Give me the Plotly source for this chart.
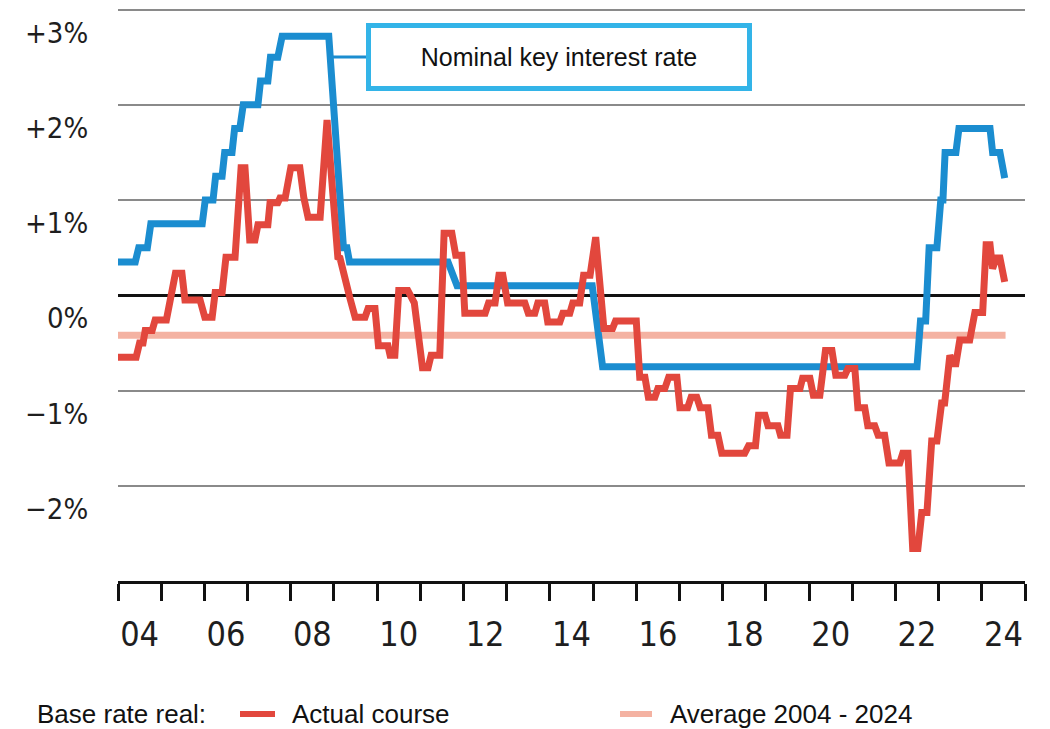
import plotly.graph_objects as go

# ---- data -------------------------------------------------------------
# Nominal key interest rate (%, decimal years)
blue_year = [2004.00, 2004.40, 2004.48, 2004.68, 2004.76, 2005.95, 2006.02, 2006.20,
             2006.26, 2006.41, 2006.47, 2006.64, 2006.70, 2006.82, 2006.90, 2007.24,
             2007.30, 2007.47, 2007.53, 2007.70, 2007.80, 2008.88, 2009.22, 2009.30,
             2009.36, 2011.64, 2011.85, 2014.98, 2015.22, 2022.50, 2022.58, 2022.70,
             2022.78, 2022.96, 2023.05, 2023.10, 2023.15, 2023.40, 2023.47, 2024.19,
             2024.25, 2024.42, 2024.53]
blue_pct = [0.35, 0.35, 0.50, 0.50, 0.75, 0.75, 1.00, 1.00,
            1.25, 1.25, 1.50, 1.50, 1.75, 1.75, 2.00, 2.00,
            2.25, 2.25, 2.50, 2.50, 2.72, 2.72, 0.50, 0.50,
            0.35, 0.35, 0.10, 0.10, -0.75, -0.75, -0.27, -0.27,
            0.50, 0.50, 1.00, 1.00, 1.50, 1.50, 1.75, 1.75,
            1.50, 1.50, 1.23]

# Real base rate, actual course (%, decimal years)
red_year = [2004.00, 2004.42, 2004.50, 2004.58, 2004.63, 2004.79, 2004.86, 2005.12,
            2005.33, 2005.48, 2005.55, 2005.90, 2006.01, 2006.18, 2006.25, 2006.41,
            2006.50, 2006.71, 2006.85, 2006.94, 2007.05, 2007.17, 2007.24, 2007.47,
            2007.52, 2007.70, 2007.75, 2007.87, 2008.00, 2008.21, 2008.30, 2008.40,
            2008.68, 2008.84, 2009.09, 2009.14, 2009.37, 2009.49, 2009.72, 2009.79,
            2009.95, 2010.03, 2010.25, 2010.30, 2010.41, 2010.50, 2010.71, 2010.80,
            2010.86, 2011.05, 2011.18, 2011.25, 2011.45, 2011.55, 2011.73, 2011.82,
            2011.96, 2012.03, 2012.50, 2012.58, 2012.73, 2012.82, 2012.91, 2013.02,
            2013.42, 2013.50, 2013.65, 2013.72, 2013.88, 2013.95, 2014.23, 2014.30,
            2014.46, 2014.53, 2014.69, 2014.78, 2014.93, 2015.06, 2015.25, 2015.45,
            2015.52, 2016.00, 2016.08, 2016.20, 2016.28, 2016.43, 2016.50, 2016.66,
            2016.75, 2016.94, 2017.01, 2017.19, 2017.27, 2017.40, 2017.48, 2017.66,
            2017.74, 2017.89, 2017.98, 2018.51, 2018.60, 2018.76, 2018.83, 2018.98,
            2019.05, 2019.28, 2019.34, 2019.49, 2019.57, 2019.79, 2019.85, 2020.02,
            2020.10, 2020.25, 2020.38, 2020.53, 2020.62, 2020.83, 2020.90, 2021.06,
            2021.13, 2021.29, 2021.36, 2021.52, 2021.60, 2021.75, 2021.85, 2022.10,
            2022.17, 2022.29, 2022.40, 2022.52, 2022.61, 2022.73, 2022.84, 2022.96,
            2023.07, 2023.14, 2023.26, 2023.33, 2023.40, 2023.49, 2023.72, 2023.84,
            2024.02, 2024.10, 2024.19, 2024.25, 2024.33, 2024.42, 2024.53]
red_pct = [-0.65, -0.65, -0.50, -0.50, -0.37, -0.37, -0.26, -0.26,
           0.23, 0.23, -0.05, -0.05, -0.23, -0.23, 0.03, 0.03,
           0.40, 0.40, 1.34, 1.34, 0.58, 0.58, 0.74, 0.74,
           0.97, 0.97, 1.02, 1.02, 1.34, 1.34, 1.03, 0.82,
           0.82, 1.84, 0.40, 0.39, -0.03, -0.23, -0.23, -0.14,
           -0.14, -0.53, -0.53, -0.63, -0.63, 0.05, 0.05, -0.05,
           -0.08, -0.76, -0.76, -0.63, -0.63, 0.65, 0.65, 0.42,
           0.42, -0.19, -0.19, -0.08, -0.08, 0.21, 0.21, -0.08,
           -0.08, -0.19, -0.19, -0.08, -0.08, -0.28, -0.28, -0.19,
           -0.19, -0.08, -0.08, 0.21, 0.21, 0.61, -0.35, -0.35,
           -0.27, -0.27, -0.86, -0.86, -1.07, -1.07, -0.98, -0.98,
           -0.86, -0.86, -1.18, -1.18, -1.07, -1.07, -1.18, -1.18,
           -1.47, -1.47, -1.66, -1.66, -1.58, -1.58, -1.26, -1.26,
           -1.37, -1.37, -1.47, -1.47, -0.98, -0.98, -0.87, -0.87,
           -1.05, -1.05, -0.58, -0.58, -0.84, -0.84, -0.77, -0.77,
           -1.18, -1.18, -1.37, -1.37, -1.47, -1.47, -1.76, -1.76,
           -1.66, -1.66, -2.66, -2.66, -2.28, -2.28, -1.53, -1.53,
           -1.13, -1.13, -0.63, -0.72, -0.72, -0.47, -0.47, -0.18,
           -0.18, 0.53, 0.53, 0.28, 0.39, 0.39, 0.14]

# Real base rate, average 2004 - 2024
avg_year = [2004.00, 2024.55]
avg_pct = -0.42

# Axis labels
x_label_years = [2004, 2006, 2008, 2010, 2012, 2014, 2016, 2018, 2020, 2022, 2024]
x_labels = ["04", "06", "08", "10", "12", "14", "16", "18", "20", "22", "24"]
y_grid = [-2, -1, 1, 2, 3]
y_label_vals = [3, 2, 1, 0, -1, -2]
y_labels = ["+3%", "+2%", "+1%", "0%", "\u22121%", "\u22122%"]

# ---- styling ----------------------------------------------------------
BLUE = "#1b8dd0"
RED = "#e2473d"
PINK = "#f4b2a2"
BOX = "#33b4e8"
GRID = "#8a8a8a"
NARROW = "Liberation Sans Narrow, DejaVu Sans Condensed, Arial Narrow, sans-serif"
SANS = "Liberation Sans, Arial, sans-serif"

W, H = 1050, 729
L, R, T, B = 118, 25, 0, 148
PW, PH = W - L - R, H - T - B


def px(x):
    """Horizontal pixel -> paper coordinate."""
    return (x - L) / PW


def py(y):
    """Vertical pixel -> paper coordinate."""
    return (H - B - y) / PH


fig = go.Figure()

fig.add_trace(go.Scatter(
    x=avg_year, y=[avg_pct] * len(avg_year), mode="lines",
    line=dict(color=PINK, width=7), hoverinfo="skip", showlegend=False))
fig.add_trace(go.Scatter(
    x=blue_year, y=blue_pct, mode="lines",
    line=dict(color=BLUE, width=7), showlegend=False))
fig.add_trace(go.Scatter(
    x=red_year, y=red_pct, mode="lines",
    line=dict(color=RED, width=7), showlegend=False))

fig.update_xaxes(
    range=[2004, 2025],
    tickmode="array",
    tickvals=[y + 0.5 for y in x_label_years],
    ticktext=x_labels,
    ticks="outside", ticklen=17, tickcolor="rgba(0,0,0,0)",
    ticklabelstandoff=4,
    tickfont=dict(family=NARROW, size=34, color="#1e1e1e"),
    minor=dict(ticks="outside", tick0=2004, dtick=1, ticklen=17,
               tickwidth=2.5, tickcolor="#111", showgrid=False),
    showline=True, linecolor="#111", linewidth=3,
    showgrid=False, zeroline=False, fixedrange=True,
)
fig.update_yaxes(
    range=[-3, 3.1],
    tickmode="array", tickvals=y_grid, showticklabels=False,
    showgrid=True, gridcolor=GRID, gridwidth=2,
    zeroline=True, zerolinecolor="#111", zerolinewidth=3,
    fixedrange=True,
)

annotations = []
# y-axis labels sit just below their gridline
for v, t in zip(y_label_vals, y_labels):
    annotations.append(dict(
        text=t, xref="paper", yref="y", x=px(90), y=v, yshift=-23,
        xanchor="right", yanchor="middle", showarrow=False,
        font=dict(family=NARROW, size=29, color="#1e1e1e")))

# label box for the nominal rate
annotations.append(dict(
    text="Nominal key interest rate", xref="paper", yref="paper",
    x=px(559), y=py(57.5), xanchor="center", yanchor="middle",
    width=376, height=58, borderwidth=5, borderpad=0,
    bordercolor=BOX, bgcolor="white", showarrow=False,
    font=dict(family=SANS, size=25, color="#111")))

# legend row
leg_y = py(714)
annotations += [
    dict(text="Base rate real:", xref="paper", yref="paper", x=px(35), y=leg_y,
         xanchor="left", yanchor="middle", showarrow=False,
         font=dict(family=SANS, size=26, color="#111")),
    dict(text="Actual course", xref="paper", yref="paper", x=px(290), y=leg_y,
         xanchor="left", yanchor="middle", showarrow=False,
         font=dict(family=SANS, size=26, color="#111")),
    dict(text="Average 2004 - 2024", xref="paper", yref="paper", x=px(668), y=leg_y,
         xanchor="left", yanchor="middle", showarrow=False,
         font=dict(family=SANS, size=26, color="#111")),
]

shapes = [
    # connector from the blue line to its label box
    dict(type="line", xref="paper", yref="paper", x0=px(333), x1=px(366),
         y0=py(57), y1=py(57), line=dict(color=BLUE, width=3)),
    dict(type="line", xref="paper", yref="paper", x0=px(240), x1=px(275),
         y0=leg_y, y1=leg_y, line=dict(color=RED, width=6)),
    dict(type="line", xref="paper", yref="paper", x0=px(620), x1=px(652),
         y0=leg_y, y1=leg_y, line=dict(color=PINK, width=6)),
]

fig.update_layout(
    width=W, height=H,
    margin=dict(l=L, r=R, t=T, b=B, pad=0),
    plot_bgcolor="white", paper_bgcolor="white",
    showlegend=False,
    annotations=annotations, shapes=shapes,
)

fig.write_html("out.html")
